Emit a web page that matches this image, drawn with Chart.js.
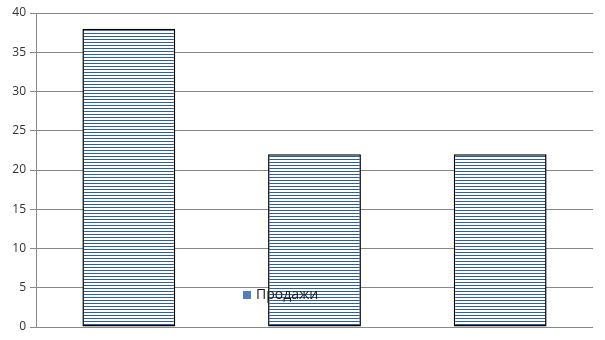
<!DOCTYPE html>
<html><head><meta charset="utf-8">
<script src="https://cdn.jsdelivr.net/npm/chart.js@4/dist/chart.umd.min.js"></script>
<style>html,body{margin:0;padding:0;background:#fff}#w{width:605px;height:340px}</style>
</head><body><div id="w"><canvas id="c" width="605" height="340"></canvas></div>
<script>
const categories = ["1", "2", "3"];
const seriesName = "Продажи";
const salesValues = [38, 22, 22];
const yTicks = [0, 5, 10, 15, 20, 25, 30, 35, 40];

function makePattern() {
  const p = document.createElement('canvas');
  p.width = 4; p.height = 3;
  const g = p.getContext('2d');
  g.fillStyle = '#ffffff'; g.fillRect(0, 0, 4, 3);
  g.fillStyle = '#2e5f9c'; g.fillRect(0, 0, 4, 1);
  return document.getElementById('c').getContext('2d').createPattern(p, 'repeat');
}

const legendPlugin = {
  id: 'legendOverlay',
  afterDraw(chart) {
    const ctx = chart.ctx;
    ctx.save();
    ctx.fillStyle = '#4f81bd';
    ctx.fillRect(243, 291, 8, 8);
    ctx.fillStyle = '#1a1a1a';
    ctx.font = '14px "Open Sans", "DejaVu Sans", sans-serif';
    ctx.textBaseline = 'middle';
    ctx.fillText(seriesName, 256, 295);
    ctx.restore();
  }
};

new Chart(document.getElementById('c'), {
  type: 'bar',
  data: {
    labels: categories,
    datasets: [{
      label: seriesName,
      data: salesValues,
      backgroundColor: makePattern(),
      borderColor: '#000000',
      borderWidth: 1.5,
      borderSkipped: false,
      barPercentage: 1,
      categoryPercentage: 0.5
    }]
  },
  options: {
    responsive: false,
    animation: false,
    layout: { padding: { top: 13, right: 12, bottom: 13, left: 0 } },
    plugins: { legend: { display: false }, tooltip: { enabled: false } },
    scales: {
      x: { display: false },
      y: {
        min: 0, max: 40,
        z: 1,
        afterFit(s) { s.width = 36; },
        afterBuildTicks(s) { s.ticks = yTicks.map(v => ({ value: v })); },
        grid: { color: '#888888', lineWidth: 1, tickLength: 6, drawTicks: true },
        border: { color: '#888888', width: 1 },
        ticks: {
          color: '#333333',
          padding: 4,
          font: { family: '"Open Sans", "DejaVu Sans", sans-serif', size: 12 }
        }
      }
    }
  },
  plugins: [legendPlugin]
});
</script>
</body></html>
